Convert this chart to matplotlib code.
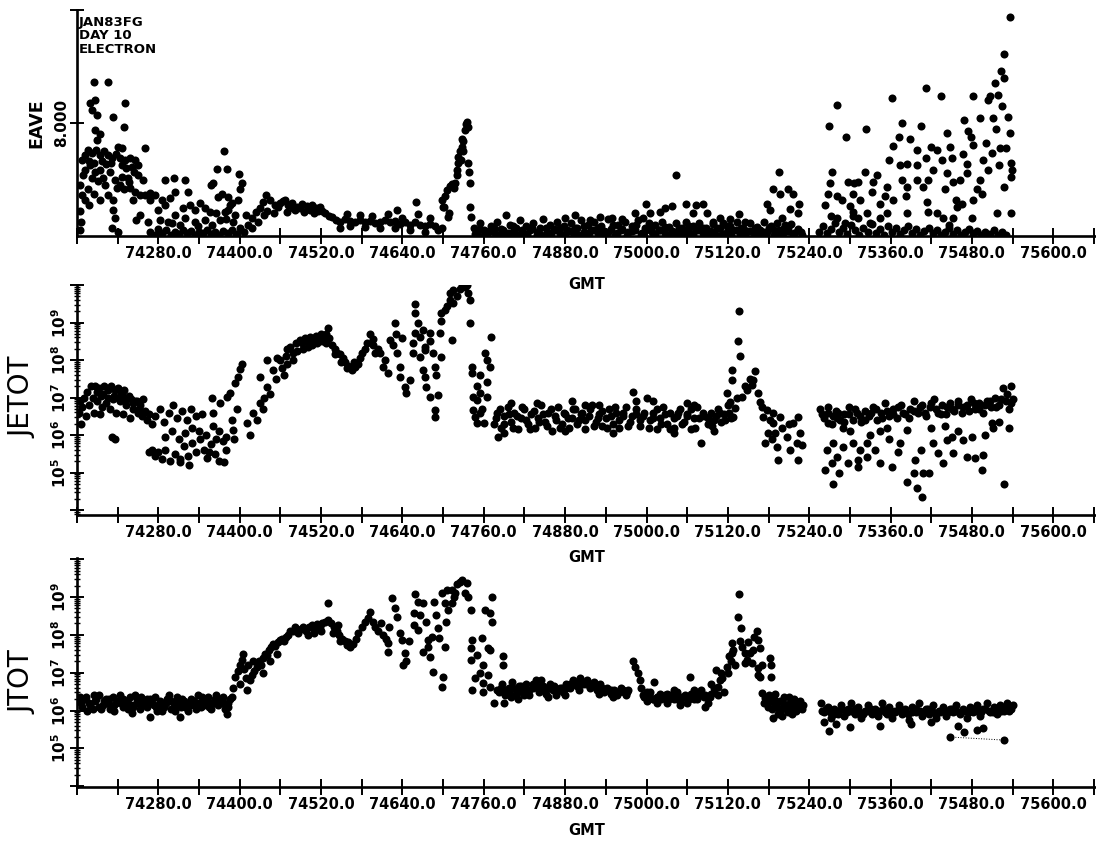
import numpy as np
import matplotlib
matplotlib.use("Agg")
import matplotlib.pyplot as plt
from matplotlib.ticker import FixedLocator, MultipleLocator, FormatStrFormatter, LogLocator, NullFormatter, FuncFormatter

plt.rcParams['font.family'] = ['DejaVu Sans']

# ---------------- data (gmt, value) ----------------
# EAVE panel (linear, keV)
eave_a = [(74164, 0.4), (74164, 1.8), (74167, 2.9), (74164, 3.6), (74169, 4.3), (74172, 4.7), (74167, 5.4), (74172, 5.7),
          (74176, 6.1), (74182, 5.9), (74188, 6.1), (74194, 5.7), (74200, 6.0), (74206, 5.7), (74212, 5.5), (74218, 5.8),
          (74223, 5.5), (74231, 5.4), (74238, 5.5), (74246, 5.4), (74250, 5.0), (74179, 5.0), (74187, 4.5), (74194, 4.7),
          (74209, 4.5), (74216, 4.0), (74223, 3.6), (74229, 3.3), (74238, 3.4), (74246, 3.1), (74253, 2.9), (74260, 2.9),
          (74268, 2.55), (74201, 3.6), (74194, 2.55), (74206, 2.9), (74213, 2.55), (74219, 3.4), (74176, 3.3), (74172, 2.55),
          (74182, 4.1), (74198, 4.1), (74213, 1.85), (74216, 1.3), (74212, 0.55), (74220, 0.3), (74190, 6.8), (74194, 7.2),
          (74187, 7.5), (74182, 8.9), (74187, 9.6), (74179, 9.4), (74185, 10.9), (74206, 10.9), (74190, 8.6), (74213, 8.4),
          (74231, 9.4), (74229, 7.7), (74220, 6.3), (74226, 6.2), (74260, 6.2), (74250, 4.3), (74235, 4.1), (74257, 4.0),
          (74243, 2.55), (74253, 1.5), (74247, 1.1), (74265, 1.0), (74268, 3.05), (74275, 2.9), (74178, 5.3), (74185, 5.2),
          (74197, 5.3), (74203, 5.1), (74210, 5.2), (74226, 5.0), (74233, 4.8), (74241, 4.9), (74244, 4.5), (74236, 3.8),
          (74227, 4.2), (74191, 3.9), (74185, 3.0), (74178, 2.2), (74166, 1.0)]
eave_b = [(74279, 1.85), (74285, 2.55), (74290, 2.2), (74297, 2.7), (74290, 4.0), (74303, 4.1), (74319, 4.0), (74324, 3.1),
          (74305, 3.1), (74282, 1.1), (74294, 1.0), (74305, 1.5), (74312, 0.8), (74316, 2.0), (74327, 2.2), (74334, 1.85),
          (74341, 2.35), (74349, 2.0), (74356, 1.7), (74334, 1.0), (74349, 1.1), (74359, 0.8), (74371, 1.1), (74378, 1.7),
          (74386, 2.2), (74393, 1.5), (74383, 2.75), (74368, 2.75), (74374, 3.0), (74361, 3.75), (74358, 3.6), (74377, 6.0),
          (74367, 4.75), (74381, 4.75), (74399, 4.4), (74403, 3.75), (74400, 3.3), (74397, 2.55), (74389, 2.35), (74383, 1.85),
          (74390, 1.0), (74400, 0.55), (74406, 0.3), (74412, 0.8), (74418, 1.3), (74424, 1.7), (74430, 2.0), (74434, 2.4),
          (74439, 2.9), (74445, 2.55), (74452, 2.2), (74459, 2.35), (74464, 2.5), (74467, 2.55), (74471, 2.2), (74474, 2.2),
          (74477, 2.35), (74482, 1.85), (74485, 2.05), (74489, 2.0), (74492, 2.3), (74499, 2.1), (74507, 2.2), (74512, 2.0),
          (74518, 2.05), (74526, 1.6), (74532, 1.4), (74418, 0.55), (74427, 1.0), (74436, 1.5),
          (74268, 0.3), (74275, 0.1), (74280, 0.5), (74286, 0.2), (74292, 0.4), (74298, 0.1), (74304, 0.3), (74310, 0.15),
          (74316, 0.45), (74322, 0.2), (74328, 0.35), (74334, 0.1), (74340, 0.3), (74346, 0.2), (74352, 0.45), (74358, 0.15),
          (74364, 0.3), (74370, 0.1), (74376, 0.35), (74382, 0.2), (74388, 0.4), (74394, 0.15),
          (74300, 0.9), (74320, 1.3), (74338, 0.7), (74365, 1.6), (74380, 1.2), (74410, 1.5), (74440, 1.8), (74450, 1.6),
          (74470, 1.7), (74495, 1.7), (74510, 1.6), (74456, 2.05), (74478, 1.95), (74503, 1.85), (74515, 1.75), (74521, 1.8)]
eave_c = [(74536, 1.35), (74542, 1.1), (74548, 1.0), (74555, 1.2), (74563, 1.05), (74570, 1.0), (74577, 1.1), (74585, 1.0),
          (74592, 1.05), (74600, 0.9), (74607, 1.0), (74614, 1.1), (74622, 1.0), (74629, 1.05), (74632, 1.85), (74636, 0.85),
          (74644, 1.0), (74651, 0.8), (74659, 1.0), (74660, 2.4), (74663, 1.55), (74666, 0.8), (74673, 0.7), (74681, 0.85),
          (74688, 0.7), (74692, 0.4), (74698, 0.55), (74548, 0.55), (74563, 0.7), (74585, 0.65), (74607, 0.55), (74629, 0.6),
          (74651, 0.4), (74673, 0.3), (74558, 1.55), (74577, 1.5), (74595, 1.45), (74619, 1.55), (74640, 1.3), (74680, 1.3),
          (74698, 2.55), (74701, 2.05), (74703, 2.85), (74706, 3.25), (74710, 3.55), (74713, 3.7), (74718, 3.75), (74721, 4.3),
          (74721, 4.7), (74722, 5.2), (74722, 5.6), (74725, 6.0), (74728, 6.3), (74728, 6.9), (74729, 6.7), (74732, 7.5),
          (74734, 7.9), (74735, 8.1), (74737, 7.7), (74737, 5.2), (74738, 4.55), (74740, 3.75), (74740, 2.05), (74741, 1.35),
          (74707, 1.35), (74709, 1.6), (74700, 2.05), (74716, 3.4), (74726, 5.4), (74730, 6.0)]
eave_d = [(74745, 0.6), (74750, 0.2), (74755, 0.9), (74760, 0.4), (74765, 0.1), (74770, 0.7), (74775, 0.3), (74780, 1.0),
          (74785, 0.5), (74790, 0.2), (74793, 1.5), (74798, 0.8), (74803, 0.3), (74808, 0.6), (74813, 1.1), (74818, 0.2),
          (74823, 0.7), (74828, 0.4), (74833, 0.9), (74838, 0.1), (74843, 0.6), (74848, 1.2), (74853, 0.3), (74858, 0.8),
          (74863, 0.5), (74868, 1.0), (74873, 0.2), (74878, 0.7), (74883, 0.4), (74888, 0.9), (74893, 0.15), (74898, 0.6),
          (74903, 1.1), (74908, 0.3), (74913, 0.8), (74918, 0.45), (74923, 1.0), (74928, 0.2), (74933, 0.7), (74938, 0.35),
          (74943, 1.2), (74948, 0.5), (74953, 0.1), (74958, 0.8), (74963, 0.4), (74968, 1.0), (74973, 0.25), (74978, 0.7),
          (74983, 0.45), (74988, 1.1), (74993, 0.2), (74998, 0.6), (75003, 0.9), (75008, 0.3), (75013, 0.75), (75018, 0.4),
          (75023, 1.0), (75028, 0.2), (75033, 0.65), (75038, 0.35), (75043, 0.9), (75048, 0.15), (75053, 0.6), (75058, 1.0),
          (75063, 0.3), (75068, 0.7), (75073, 0.45), (75078, 0.95), (75083, 0.2), (75088, 0.6), (75093, 0.35), (75098, 0.85),
          (75103, 0.1), (75108, 0.55), (75113, 0.9), (75118, 0.3), (75123, 0.7), (75128, 0.4), (75133, 1.0), (75138, 0.15),
          (75143, 0.6), (75148, 0.35), (75153, 0.9), (75158, 0.2), (75163, 0.65), (75168, 0.4), (75173, 1.0), (75178, 0.25),
          (75183, 0.7), (75188, 0.45), (75193, 0.9), (75198, 0.1), (75203, 0.6), (75208, 0.35), (75213, 0.85), (75218, 0.2),
          (75223, 0.5), (75228, 0.3),
          (75044, 4.3), (74999, 2.3), (75005, 1.6), (75020, 1.7), (75027, 2.0), (75038, 2.1), (75058, 2.3), (75073, 2.2),
          (75083, 2.3), (75069, 1.6), (75089, 1.6), (75098, 1.0), (75136, 1.55), (74895, 1.5), (74917, 1.1), (74949, 1.3),
          (74964, 1.2), (74983, 1.6), (74995, 1.3), (74880, 1.3), (74931, 1.35), (75108, 1.3), (75123, 1.2), (75145, 1.0),
          (75195, 4.5), (75187, 3.3), (75197, 3.0), (75209, 3.3), (75216, 3.0), (75178, 2.3), (75212, 1.9), (75225, 2.3),
          (75200, 1.3), (75223, 1.6), (75182, 1.85), (75204, 0.8)]
eave_d2 = [(74747, 0.15), (74754, 0.5), (74761, 0.05), (74768, 0.35), (74775, 0.6), (74782, 0.1), (74789, 0.45), (74796, 0.2),
           (74803, 0.7), (74810, 0.05), (74817, 0.4), (74824, 0.15), (74831, 0.55), (74838, 0.3), (74845, 0.05), (74852, 0.6),
           (74859, 0.2), (74866, 0.45), (74873, 0.6), (74880, 0.1), (74887, 0.35), (74894, 0.55), (74901, 0.05), (74908, 0.7),
           (74915, 0.2), (74922, 0.45), (74929, 0.6), (74936, 0.05), (74943, 0.3), (74950, 0.75), (74957, 0.2), (74964, 0.5),
           (74971, 0.05), (74978, 0.35), (74985, 0.8), (74992, 0.15), (74999, 0.4), (75006, 0.6), (75013, 0.1), (75020, 0.45),
           (75027, 0.65), (75034, 0.05), (75041, 0.3), (75048, 0.55), (75055, 0.2), (75062, 0.7), (75069, 0.1), (75076, 0.4),
           (75083, 0.6), (75090, 0.05), (75097, 0.3), (75104, 0.55), (75111, 0.15), (75118, 0.7), (75125, 0.05), (75132, 0.4),
           (75139, 0.6), (75146, 0.1), (75153, 0.35), (75160, 0.55), (75167, 0.05), (75174, 0.3), (75181, 0.6), (75188, 0.1),
           (75195, 0.45), (75202, 0.2), (75209, 0.6), (75216, 0.05), (75223, 0.4), (75230, 0.1)]
eave_e = [(75536, 15.5), (75527, 12.9), (75523, 11.7), (75527, 11.2), (75514, 10.8), (75519, 10.0), (75507, 9.9), (75504, 9.6),
          (75482, 9.9), (75434, 9.9), (75412, 10.5), (75362, 9.8), (75281, 9.3), (75269, 7.8), (75294, 7.0), (75324, 7.6),
          (75377, 8.0), (75405, 7.8), (75372, 7.0), (75364, 6.4), (75389, 6.85), (75443, 7.3), (75468, 8.2), (75492, 8.35),
          (75511, 8.35), (75524, 9.2), (75533, 8.45), (75536, 7.3), (75516, 7.6), (75501, 6.6), (75482, 6.45), (75474, 7.4),
          (75479, 7.0), (75448, 6.3), (75428, 6.1), (75420, 6.3), (75399, 6.1), (75358, 5.4), (75374, 5.0), (75384, 5.1),
          (75399, 5.0), (75412, 5.5), (75436, 5.4), (75451, 5.5), (75467, 5.8), (75473, 5.1), (75496, 5.4), (75510, 5.9),
          (75521, 6.2), (75520, 5.0), (75530, 6.2), (75538, 5.2), (75539, 4.7), (75538, 4.2), (75527, 3.5), (75504, 4.7),
          (75492, 4.0), (75495, 3.0), (75488, 3.3), (75482, 2.55), (75473, 4.45), (75462, 4.0), (75452, 3.8), (75443, 4.45),
          (75440, 3.3), (75457, 2.55), (75458, 2.05), (75465, 2.3), (75480, 1.3), (75452, 1.3), (75446, 0.8), (75423, 4.7),
          (75415, 4.0), (75408, 3.5), (75414, 2.4), (75415, 1.7), (75428, 1.6), (75437, 1.3), (75384, 1.6), (75383, 2.8),
          (75399, 4.0), (75384, 3.5), (75377, 4.0), (75355, 3.5), (75364, 2.55), (75352, 2.8), (75355, 1.6), (75340, 4.3),
          (75334, 3.8), (75333, 3.1), (75322, 4.55), (75312, 3.8), (75305, 3.0), (75297, 3.8), (75315, 2.55), (75300, 2.1),
          (75288, 2.55), (75281, 2.8), (75274, 4.55), (75271, 3.75), (75268, 3.0), (75263, 2.2), (75305, 1.7), (75312, 1.3),
          (75325, 1.6), (75344, 2.3), (75344, 1.3), (75330, 0.9), (75517, 1.6), (75538, 1.6), (75527, 0.1), (75306, 3.75),
          (75272, 1.4), (75281, 1.3), (75293, 0.9), (75305, 1.4),
          (75255, 0.3), (75260, 0.7), (75266, 0.2), (75272, 0.5), (75278, 0.9), (75284, 0.3), (75290, 0.6), (75296, 0.15),
          (75302, 0.8), (75308, 0.4), (75314, 0.1), (75320, 0.6), (75326, 0.3), (75332, 0.85), (75338, 0.2), (75344, 0.5),
          (75350, 0.1), (75356, 0.7), (75362, 0.3), (75368, 0.55), (75374, 0.15), (75380, 0.4), (75386, 0.7), (75392, 0.2),
          (75398, 0.5), (75404, 0.1), (75410, 0.35), (75416, 0.6), (75422, 0.2), (75428, 0.45), (75434, 0.1), (75440, 0.3),
          (75446, 0.55), (75452, 0.15), (75458, 0.4), (75464, 0.1), (75470, 0.3), (75476, 0.5), (75482, 0.2), (75488, 0.35),
          (75494, 0.1), (75500, 0.3), (75506, 0.15), (75512, 0.4), (75518, 0.1), (75524, 0.25), (75530, 0.1)]

# JETOT panel, log10 of flux
jetot_a = [(74163, 6.6), (74164, 6.9), (74166, 6.3), (74168, 6.75), (74170, 7.0), (74173, 6.5), (74175, 7.15), (74178, 6.8),
           (74181, 7.3), (74184, 7.0), (74187, 7.3), (74190, 6.9), (74193, 7.25), (74196, 7.05), (74200, 7.3), (74203, 6.85),
           (74206, 7.2), (74210, 7.3), (74213, 6.95), (74216, 7.2), (74220, 7.25), (74223, 6.9), (74226, 7.1), (74230, 7.2),
           (74233, 6.8), (74236, 7.05), (74240, 6.95), (74243, 6.7), (74246, 6.9), (74250, 6.6), (74253, 6.8), (74256, 6.5),
           (74260, 6.65), (74263, 6.4), (74266, 6.55), (74270, 6.3), (74185, 6.6), (74197, 6.75), (74208, 6.7), (74218, 6.6),
           (74228, 6.55), (74238, 6.45), (74194, 6.55), (74212, 5.96), (74216, 5.9), (74248, 6.9), (74258, 6.95), (74225, 7.1),
           (74189, 7.15), (74199, 7.1), (74205, 7.0), (74215, 7.05), (74222, 7.0), (74232, 6.95), (74242, 6.85), (74252, 6.7)]
jetot_b = [(74270, 5.6), (74275, 5.45), (74280, 5.55), (74285, 5.35), (74290, 5.6), (74297, 5.3), (74305, 5.5), (74312, 5.35),
           (74318, 5.7), (74324, 5.45), (74330, 5.8), (74336, 5.55), (74342, 5.9), (74347, 5.6), (74352, 5.4), (74358, 5.75),
           (74364, 5.5), (74370, 5.3), (74375, 5.85), (74380, 5.6), (74290, 5.95), (74300, 6.1), (74310, 5.9), (74320, 6.05),
           (74330, 6.2), (74340, 6.1), (74350, 6.0), (74360, 6.25), (74370, 6.1), (74380, 5.95), (74275, 6.5), (74282, 6.7),
           (74288, 6.35), (74295, 6.6), (74302, 6.8), (74308, 6.45), (74315, 6.65), (74322, 6.4), (74328, 6.7), (74335, 6.5),
           (74345, 6.55), (74359, 7.0), (74312, 5.27), (74377, 5.27), (74266, 5.55), (74355, 5.55), (74365, 5.9), (74325, 5.2),
           (74361, 6.6), (74371, 6.86), (74381, 7.02), (74386, 7.12), (74390, 6.14), (74389, 6.4), (74393, 7.4), (74396, 6.7),
           (74400, 7.75), (74403, 7.9), (74392, 5.9), (74398, 7.55),
           (74411, 6.32), (74415, 6.0), (74420, 6.59), (74425, 6.4), (74430, 6.86), (74435, 6.7), (74440, 7.28), (74436, 7.0),
           (74445, 7.1), (74449, 7.74), (74453, 7.5), (74459, 8.0), (74463, 7.8), (74468, 8.1), (74474, 8.35), (74478, 8.2),
           (74483, 8.45), (74489, 8.54), (74440, 8.0), (74430, 7.55), (74455, 8.05), (74470, 8.3)]
jetot_c = [(74492, 8.45), (74496, 8.6), (74500, 8.5), (74504, 8.62), (74508, 8.55), (74512, 8.65), (74516, 8.6), (74520, 8.7),
           (74524, 8.62), (74528, 8.7), (74530, 8.86), (74532, 8.6), (74494, 8.3), (74500, 8.35), (74507, 8.4), (74514, 8.45),
           (74521, 8.5), (74527, 8.45), (74484, 8.25), (74478, 8.0), (74470, 7.9), (74466, 7.6),
           (74536, 8.4), (74540, 8.3), (74544, 8.2), (74548, 8.15), (74552, 8.05), (74556, 7.95), (74560, 7.85), (74564, 7.78),
           (74566, 7.74), (74570, 7.82), (74574, 7.9), (74540, 8.15), (74550, 7.95), (74558, 7.8), (74568, 7.95),
           (74577, 8.05), (74581, 8.2), (74585, 8.3), (74588, 8.45), (74592, 8.7), (74596, 8.4), (74600, 8.2), (74604, 8.3),
           (74607, 8.18), (74611, 7.82), (74615, 8.0), (74619, 7.66), (74622, 8.54), (74626, 8.4), (74629, 9.0), (74632, 8.18),
           (74636, 7.82), (74636, 7.55), (74644, 7.28), (74646, 7.12), (74651, 7.47), (74640, 8.6), (74630, 8.7), (74596, 8.55),
           (74659, 9.5), (74659, 9.26), (74663, 9.0), (74659, 8.72), (74655, 8.46), (74655, 8.18), (74666, 8.62), (74670, 8.8),
           (74673, 8.35), (74666, 8.08), (74673, 8.27), (74670, 7.74), (74673, 7.55), (74675, 7.28), (74681, 7.02), (74688, 6.67),
           (74688, 6.48), (74681, 8.72), (74681, 8.5), (74685, 8.18), (74688, 7.82), (74690, 7.6), (74692, 7.07), (74695, 8.72),
           (74697, 8.08),
           (74697, 9.05), (74703, 9.34), (74710, 9.6), (74710, 9.79), (74715, 9.87), (74728, 10.0), (74735, 10.0), (74737, 9.79),
           (74740, 9.6), (74715, 9.52), (74713, 8.54), (74697, 9.26), (74720, 9.7), (74732, 9.95), (74706, 9.45), (74725, 9.9),
           (74740, 9.0), (74771, 8.62), (74762, 8.2), (74765, 8.0), (74769, 7.82), (74743, 7.82), (74743, 7.66), (74754, 7.6),
           (74765, 7.42), (74750, 7.3), (74754, 7.12), (74765, 7.02), (74744, 7.02), (74750, 6.94), (74744, 6.67), (74747, 6.48),
           (74754, 6.59), (74760, 6.32), (74750, 6.32), (74758, 6.7)]
jetot_d = [(74775, 6.3), (74780, 6.6), (74785, 6.2), (74790, 6.5), (74795, 6.75), (74800, 6.35), (74805, 6.6), (74810, 6.15),
           (74815, 6.45), (74820, 6.7), (74825, 6.3), (74830, 6.55), (74835, 6.2), (74840, 6.45), (74845, 6.8), (74850, 6.35),
           (74855, 6.6), (74860, 6.1), (74865, 6.5), (74870, 6.75), (74875, 6.3), (74880, 6.55), (74885, 6.2), (74890, 6.45),
           (74895, 6.7), (74900, 6.4), (74905, 6.6), (74910, 6.15), (74915, 6.5), (74920, 6.8), (74925, 6.35), (74930, 6.55),
           (74935, 6.25), (74940, 6.45), (74945, 6.7), (74950, 6.3), (74955, 6.6), (74960, 6.2), (74965, 6.5), (74970, 6.75),
           (74975, 6.35), (74980, 7.15), (74985, 6.55), (74990, 6.25), (74995, 6.5), (75000, 7.0), (75005, 6.4), (75010, 6.6),
           (75015, 6.15), (75020, 6.45), (75025, 6.75), (75030, 6.3), (75035, 6.6), (75040, 6.2), (75045, 6.5), (75050, 6.7),
           (75055, 6.35), (75060, 6.55), (75065, 6.15), (75070, 6.45), (75075, 6.75), (75080, 5.8), (75085, 6.5), (75090, 6.3),
           (75095, 6.6), (75100, 6.4), (75105, 6.7), (75110, 6.35), (75115, 6.55), (75120, 6.8), (75125, 6.45),
           (74781, 5.95), (74790, 6.05), (74800, 6.85), (74838, 6.85), (74880, 6.1), (74910, 6.8), (74950, 6.05), (74930, 6.8),
           (75060, 6.85), (75040, 6.05), (75070, 6.8), (75010, 6.9), (74985, 6.9), (75100, 6.1), (74890, 6.9),
           (75136, 9.3), (75135, 8.5), (75138, 8.1), (75126, 7.74), (75126, 7.47), (75160, 7.7), (75157, 7.47), (75156, 7.34),
           (75148, 7.2), (75141, 7.02), (75119, 7.12), (75123, 6.88), (75131, 6.72), (75128, 6.48), (75164, 7.12), (75167, 6.88),
           (75170, 6.75), (75172, 6.48), (75178, 6.67), (75187, 6.59), (75197, 6.48), (75187, 6.32), (75179, 6.05), (75175, 5.79),
           (75190, 6.05), (75193, 5.68), (75194, 5.34), (75207, 5.95), (75212, 5.6), (75216, 6.32), (75223, 6.48), (75226, 6.05),
           (75222, 5.79), (75229, 5.74), (75223, 5.34), (75145, 7.3), (75152, 7.5), (75133, 7.0), (75200, 6.2), (75185, 5.9),
           (75210, 6.3), (75182, 6.4)]
jetot_d2 = [(74778, 6.45), (74784, 6.7), (74790, 6.3), (74797, 6.55), (74803, 6.2), (74809, 6.5), (74816, 6.75), (74822, 6.4),
            (74828, 6.15), (74834, 6.65), (74841, 6.35), (74847, 6.55), (74853, 6.25), (74859, 6.7), (74866, 6.4), (74872, 6.2),
            (74878, 6.6), (74884, 6.45), (74891, 6.7), (74897, 6.3), (74903, 6.55), (74909, 6.4), (74916, 6.7), (74922, 6.25),
            (74928, 6.45), (74934, 6.65), (74941, 6.2), (74947, 6.5), (74953, 6.75), (74959, 6.4), (74966, 6.6), (74972, 6.25),
            (74978, 6.5), (74984, 6.7), (74991, 6.4), (74997, 6.6), (75003, 6.2), (75009, 6.45), (75016, 6.7), (75022, 6.3),
            (75028, 6.55), (75034, 6.15), (75041, 6.45), (75047, 6.6), (75053, 6.3), (75059, 6.5), (75066, 6.7), (75072, 6.2),
            (75078, 6.45), (75084, 6.6), (75091, 6.45), (75097, 6.25), (75103, 6.5), (75109, 6.6), (75116, 6.4), (75122, 6.6)]
jetot_e = [(75256, 6.7), (75262, 6.45), (75268, 6.6), (75274, 6.3), (75280, 6.65), (75286, 6.4), (75292, 6.55), (75298, 6.75),
           (75304, 6.4), (75310, 6.6), (75316, 6.35), (75322, 6.65), (75328, 6.5), (75334, 6.75), (75340, 6.4), (75346, 6.6),
           (75352, 6.85), (75358, 6.5), (75364, 6.7), (75370, 6.45), (75376, 6.8), (75382, 6.55), (75388, 6.7), (75394, 6.9),
           (75400, 6.6), (75406, 6.8), (75412, 6.5), (75418, 6.75), (75424, 6.95), (75430, 6.6), (75436, 6.8), (75442, 6.55),
           (75448, 6.85), (75454, 6.65), (75460, 6.9), (75466, 6.6), (75472, 6.8), (75478, 6.95), (75484, 6.7), (75490, 6.85),
           (75496, 6.6), (75502, 6.9), (75508, 6.75), (75514, 7.0), (75520, 6.8), (75526, 7.25), (75530, 6.9), (75534, 6.7),
           (75538, 7.3), (75540, 6.95),
           (75275, 4.7), (75527, 4.7), (75384, 4.75), (75399, 4.59), (75407, 4.35), (75263, 5.07), (75284, 5.0), (75297, 5.26),
           (75312, 5.15), (75344, 5.26), (75362, 5.15), (75394, 5.0), (75408, 5.0), (75417, 5.0), (75396, 5.34), (75423, 5.79),
           (75430, 5.52), (75437, 5.26), (75452, 5.52), (75443, 5.87), (75451, 5.95), (75473, 5.42), (75485, 5.39), (75495, 5.07),
           (75496, 5.47), (75480, 5.95), (75467, 5.87), (75374, 5.79), (75371, 5.55), (75384, 6.14), (75344, 6.1), (75325, 5.79),
           (75315, 5.6), (75305, 5.79), (75290, 5.68), (75275, 5.79), (75266, 5.6), (75281, 5.42), (75274, 5.26), (75325, 5.42),
           (75337, 5.6), (75312, 5.34), (75511, 6.2), (75535, 6.2), (75510, 6.32), (75300, 6.1), (75268, 6.32), (75281, 6.46),
           (75330, 6.0), (75355, 6.2), (75420, 6.2), (75460, 6.1), (75500, 6.0), (75358, 5.9), (75405, 5.6), (75440, 6.25),
           (75520, 6.35), (75290, 6.2)]
jetot_e2 = [(75259, 6.55), (75267, 6.75), (75275, 6.5), (75283, 6.6), (75291, 6.35), (75299, 6.55), (75307, 6.7), (75315, 6.5),
            (75323, 6.4), (75331, 6.6), (75339, 6.7), (75347, 6.45), (75355, 6.65), (75363, 6.55), (75371, 6.75), (75379, 6.6),
            (75387, 6.45), (75395, 6.65), (75403, 6.75), (75411, 6.6), (75419, 6.85), (75427, 6.7), (75435, 6.55), (75443, 6.75),
            (75451, 6.7), (75459, 6.8), (75467, 6.75), (75475, 6.65), (75483, 6.85), (75491, 6.7), (75499, 6.8), (75507, 6.9),
            (75515, 6.75), (75523, 6.95), (75531, 7.1), (75537, 6.85)]

# JTOT panel, log10 of flux
jtot_a = [(74163, 6.25), (74168, 6.1), (74173, 6.35), (74178, 6.2), (74183, 6.05), (74188, 6.3), (74193, 6.4), (74198, 6.15),
          (74203, 6.3), (74208, 6.05), (74213, 6.35), (74218, 6.2), (74223, 6.4), (74228, 6.1), (74233, 6.25), (74238, 6.35),
          (74241, 5.94), (74243, 6.15), (74248, 6.3), (74253, 6.05), (74258, 6.25), (74263, 6.1), (74268, 5.84), (74268, 6.3),
          (74273, 6.15), (74278, 6.0), (74283, 6.25), (74288, 6.1), (74293, 6.3), (74298, 6.05), (74303, 6.2), (74308, 6.35),
          (74312, 5.84), (74313, 6.1), (74318, 6.25), (74323, 6.0), (74328, 6.3), (74333, 6.15), (74338, 6.4), (74343, 6.1),
          (74348, 6.25), (74353, 6.35), (74358, 6.05), (74363, 6.3), (74368, 6.15), (74373, 6.25), (74378, 6.05), (74381, 5.91),
          (74383, 6.2),
          (74165, 6.35), (74175, 6.0), (74185, 6.4), (74195, 6.05), (74205, 6.2), (74215, 6.0), (74225, 6.2), (74235, 6.05),
          (74245, 6.4), (74255, 6.35), (74265, 6.25), (74275, 6.35), (74285, 6.0), (74295, 6.4), (74305, 6.0), (74315, 6.3),
          (74325, 6.2), (74335, 6.05), (74345, 6.35), (74355, 6.2), (74365, 6.4), (74375, 6.35), (74385, 6.3),
          (74388, 6.36), (74390, 6.6), (74393, 6.89), (74397, 7.05), (74400, 7.21), (74403, 7.34), (74406, 7.1), (74409, 6.86),
          (74411, 6.55), (74415, 6.81), (74418, 6.95), (74421, 7.05), (74425, 7.16), (74428, 7.3), (74431, 7.2), (74434, 7.4),
          (74437, 7.5), (74440, 7.47), (74443, 7.6), (74446, 7.68), (74449, 7.75), (74452, 7.7), (74456, 7.8), (74459, 7.87),
          (74462, 7.9), (74465, 7.85), (74468, 7.95), (74471, 8.0), (74474, 8.1), (74405, 7.5), (74420, 7.3), (74435, 7.0),
          (74445, 7.3), (74455, 7.5), (74412, 7.2), (74400, 6.7)]
jtot_a2 = [(74166, 6.2), (74172, 6.3), (74179, 6.15), (74186, 6.25), (74193, 6.1), (74200, 6.25), (74207, 6.3), (74214, 6.15),
           (74221, 6.25), (74228, 6.3), (74235, 6.2), (74242, 6.1), (74249, 6.2), (74256, 6.15), (74263, 6.3), (74270, 6.2),
           (74277, 6.1), (74284, 6.15), (74291, 6.2), (74298, 6.25), (74305, 6.15), (74312, 6.2), (74319, 6.1), (74326, 6.15),
           (74333, 6.25), (74340, 6.2), (74347, 6.15), (74354, 6.1), (74361, 6.2), (74368, 6.3), (74375, 6.2), (74382, 6.1)]
jtot_b = [(74478, 8.1), (74482, 8.2), (74486, 8.05), (74490, 8.15), (74494, 8.22), (74498, 8.1), (74502, 8.2), (74506, 8.25),
          (74510, 8.15), (74514, 8.28), (74518, 8.2), (74522, 8.3), (74526, 8.35), (74530, 8.4), (74530, 8.85), (74500, 8.0),
          (74510, 8.05), (74520, 8.1),
          (74535, 8.3), (74539, 8.2), (74543, 8.1), (74547, 8.0), (74551, 7.9), (74555, 7.85), (74559, 7.8), (74563, 7.68),
          (74567, 7.75), (74571, 7.9), (74538, 8.05), (74548, 7.85), (74558, 7.72), (74545, 8.25),
          (74575, 8.05), (74580, 8.2), (74585, 8.35), (74589, 8.45), (74592, 8.61), (74596, 8.35), (74600, 8.2), (74604, 8.1),
          (74608, 8.3), (74612, 8.0), (74616, 7.9), (74620, 8.2), (74618, 7.79), (74619, 7.55), (74625, 8.98), (74629, 8.72),
          (74632, 8.48), (74636, 8.05), (74639, 7.87), (74644, 7.52), (74641, 7.21), (74646, 7.3), (74650, 7.83),
          (74659, 9.09), (74663, 8.88), (74657, 8.58), (74666, 8.53), (74670, 8.85), (74657, 8.27), (74663, 8.13), (74675, 8.35),
          (74678, 7.87), (74670, 7.55), (74678, 7.68), (74680, 7.42), (74685, 7.02), (74687, 8.88), (74690, 8.53), (74693, 8.19),
          (74683, 7.95), (74694, 7.92), (74703, 7.68), (74700, 6.89), (74698, 6.63), (74705, 8.35),
          (74698, 9.11), (74706, 9.19), (74703, 8.85), (74707, 8.66), (74713, 9.19), (74721, 9.33), (74728, 9.46), (74735, 9.38),
          (74732, 9.11), (74737, 9.0), (74718, 9.11), (74713, 8.85), (74725, 9.4), (74716, 9.0),
          (74741, 8.66), (74772, 9.0), (74762, 8.66), (74769, 8.58), (74772, 8.35), (74743, 7.87), (74757, 7.92), (74741, 7.66),
          (74766, 7.66), (74769, 7.61), (74750, 7.47), (74741, 7.34), (74759, 7.21), (74788, 7.45), (74788, 7.21), (74754, 7.0),
          (74766, 6.94), (74747, 6.86), (74759, 6.73), (74743, 6.55), (74759, 6.5), (74769, 6.63), (74779, 6.55), (74775, 6.2)]
jtot_c = [(74782, 6.5), (74787, 6.7), (74792, 6.4), (74797, 6.6), (74802, 6.75), (74807, 6.45), (74812, 6.65), (74817, 6.5),
          (74822, 6.7), (74827, 6.4), (74832, 6.6), (74837, 6.8), (74842, 6.5), (74847, 6.65), (74852, 6.45), (74857, 6.7),
          (74862, 6.55), (74867, 6.4), (74872, 6.6), (74877, 6.5), (74882, 6.7), (74887, 6.6), (74892, 6.8), (74897, 6.65),
          (74902, 6.85), (74907, 6.7), (74912, 6.8), (74917, 6.6), (74922, 6.75), (74927, 6.55), (74932, 6.7), (74937, 6.5),
          (74942, 6.6), (74947, 6.45), (74952, 6.55), (74957, 6.4), (74962, 6.6), (74967, 6.5), (74972, 6.55),
          (74800, 6.35), (74820, 6.4), (74855, 6.35), (74880, 6.4), (74900, 6.55), (74930, 6.45), (74950, 6.35), (74970, 6.4),
          (74845, 6.8), (74790, 6.2), (74810, 6.3),
          (74980, 7.31), (74983, 7.16), (74987, 7.0), (74990, 6.81), (74992, 6.6),
          (74995, 6.4), (75000, 6.25), (75005, 6.5), (75010, 6.3), (75015, 6.2), (75020, 6.45), (75025, 6.35), (75030, 6.2),
          (75035, 6.4), (75040, 6.3), (75045, 6.5), (75050, 6.25), (75055, 6.35), (75060, 6.2), (75065, 6.45), (75070, 6.3),
          (75075, 6.4), (75080, 6.55), (75085, 6.35), (75090, 6.2), (75095, 6.45), (75100, 6.6), (75105, 6.4),
          (75011, 6.76), (75064, 6.89), (75086, 6.1), (75040, 6.55), (75070, 6.55), (75000, 6.5), (75050, 6.15), (75030, 6.45),
          (75102, 7.07), (75106, 6.63), (75110, 7.0), (75114, 6.5), (75118, 7.16), (75126, 7.79), (75126, 7.52), (75120, 7.0),
          (75108, 6.8), (75124, 7.3), (75095, 6.7), (75112, 6.85), (75122, 7.45), (75128, 7.6), (75130, 7.2),
          (75136, 9.09), (75135, 8.48), (75140, 8.19), (75141, 7.68), (75145, 7.52), (75148, 7.34), (75153, 7.52), (75163, 8.11),
          (75164, 7.87), (75167, 7.66), (75157, 7.61), (75156, 7.26), (75165, 7.13), (75164, 6.94), (75167, 6.89), (75170, 7.21),
          (75182, 7.4), (75183, 7.21), (75183, 6.89), (75145, 7.26), (75150, 7.8), (75158, 7.95), (75138, 7.85),
          (75170, 6.47), (75175, 6.34), (75178, 6.2), (75181, 6.4), (75185, 6.05), (75188, 6.3), (75191, 6.15), (75194, 5.9),
          (75197, 6.25), (75200, 6.05), (75203, 6.35), (75206, 6.1), (75209, 5.95), (75212, 6.2), (75215, 6.05), (75218, 6.3),
          (75221, 6.0), (75224, 6.15), (75227, 6.25), (75230, 6.05), (75186, 5.8), (75200, 5.85), (75215, 5.9), (75190, 6.45),
          (75210, 6.35)]
jtot_c2 = [(74785, 6.6), (74791, 6.55), (74797, 6.5), (74803, 6.6), (74809, 6.55), (74815, 6.65), (74821, 6.6), (74827, 6.55),
           (74833, 6.7), (74839, 6.65), (74845, 6.6), (74851, 6.55), (74857, 6.6), (74863, 6.65), (74869, 6.55), (74875, 6.6),
           (74881, 6.6), (74887, 6.7), (74893, 6.7), (74899, 6.75), (74905, 6.75), (74911, 6.7), (74917, 6.7), (74923, 6.65),
           (74929, 6.6), (74935, 6.6), (74941, 6.55), (74947, 6.55), (74953, 6.5), (74959, 6.5), (74965, 6.55), (74971, 6.5),
           (74997, 6.35), (75003, 6.4), (75009, 6.3), (75015, 6.35), (75021, 6.3), (75027, 6.4), (75033, 6.3), (75039, 6.35),
           (75045, 6.3), (75051, 6.35), (75057, 6.4), (75063, 6.3), (75069, 6.35), (75075, 6.3), (75081, 6.45), (75087, 6.4),
           (75093, 6.35), (75099, 6.5),
           (75173, 6.2), (75179, 6.1), (75184, 6.25), (75189, 6.15), (75195, 6.05), (75201, 6.2), (75207, 6.15), (75213, 6.05),
           (75219, 6.15), (75225, 6.1), (75231, 6.15)]
jtot_d = [(75257, 6.2), (75262, 5.95), (75267, 6.1), (75272, 5.8), (75277, 6.05), (75282, 5.9), (75287, 6.15), (75292, 5.85),
          (75297, 6.05), (75302, 6.2), (75307, 5.9), (75312, 6.1), (75317, 5.8), (75322, 6.0), (75327, 6.15), (75332, 5.9),
          (75337, 6.05), (75342, 5.85), (75347, 6.2), (75352, 5.95), (75357, 6.1), (75362, 5.8), (75367, 6.0), (75372, 6.15),
          (75377, 5.9), (75382, 6.05), (75387, 5.75), (75392, 6.1), (75397, 5.95), (75402, 6.2), (75407, 5.85), (75412, 6.05),
          (75417, 5.9), (75422, 6.15), (75427, 5.8), (75432, 6.0), (75437, 6.1), (75442, 5.85), (75447, 6.05), (75452, 5.95),
          (75457, 6.15), (75462, 5.9), (75467, 6.05), (75472, 5.8), (75477, 6.1), (75482, 5.95), (75487, 6.15), (75492, 5.85),
          (75497, 6.05), (75502, 6.2), (75507, 5.95), (75512, 6.1), (75517, 5.9), (75522, 6.15), (75527, 6.0), (75532, 6.2),
          (75537, 6.05), (75540, 6.15),
          (75269, 5.45), (75300, 5.57), (75344, 5.6), (75448, 5.3), (75527, 5.22), (75468, 5.43), (75488, 5.49), (75496, 5.54),
          (75262, 5.7), (75280, 5.65), (75390, 5.65), (75420, 5.7), (75460, 5.6)]
jtot_d2 = [(75259, 6.0), (75265, 6.05), (75271, 5.95), (75277, 5.9), (75283, 6.0), (75289, 6.05), (75295, 5.95), (75301, 6.0),
           (75307, 6.05), (75313, 5.95), (75319, 5.9), (75325, 6.0), (75331, 6.05), (75337, 5.95), (75343, 6.0), (75349, 6.05),
           (75355, 5.9), (75361, 6.0), (75367, 5.95), (75373, 6.05), (75379, 6.0), (75385, 5.9), (75391, 5.95), (75397, 6.05),
           (75403, 6.0), (75409, 5.95), (75415, 6.05), (75421, 6.0), (75427, 5.9), (75433, 5.95), (75439, 6.0), (75445, 5.95),
           (75451, 6.05), (75457, 6.0), (75463, 5.95), (75469, 6.0), (75475, 5.95), (75481, 6.05), (75487, 6.0), (75493, 5.95),
           (75499, 6.05), (75505, 6.0), (75511, 5.95), (75517, 6.05), (75523, 6.0), (75529, 6.1), (75535, 6.0)]

# dotted gap line under the JTOT band
jtot_gap_gmt = [75448, 75527]
jtot_gap_log = [5.3, 5.22]

gmt_labels = [74280, 74400, 74520, 74640, 74760, 74880, 75000, 75120, 75240, 75360, 75480, 75600]

# ---------------- figure ----------------
W, H = 1096.0, 842.0
fig = plt.figure(figsize=(W / 100, H / 100), dpi=100)


def box(left, top, bottom):
    return [left / W, 1 - bottom / H, 1 - left / W, (bottom - top) / H]


ax1 = fig.add_axes(box(77, 10, 236))
ax2 = fig.add_axes(box(77, 285, 515))
ax3 = fig.add_axes(box(77, 558, 787))


def xy(*segs):
    pts = np.array([p for s in segs for p in s], dtype=float)
    return pts[:, 0], pts[:, 1]


def style(ax, gmt_y):
    ax.patch.set_visible(False)
    for s in ('top', 'right'):
        ax.spines[s].set_visible(False)
    for s in ('left', 'bottom'):
        ax.spines[s].set_linewidth(1.9)
    ax.set_xlim(74160, 75663)
    ax.xaxis.set_major_locator(FixedLocator(gmt_labels))
    ax.xaxis.set_minor_locator(MultipleLocator(60))
    ax.xaxis.set_major_formatter(FormatStrFormatter('%.1f'))
    ax.tick_params(axis='x', which='both', direction='inout', length=11, width=1.4, pad=2,
                   labelsize=10.5)
    for t in ax.get_xticklabels():
        t.set_fontweight('bold')
    ax.set_xlabel('GMT', fontsize=10.5, fontweight='bold', va='top')
    ax.xaxis.set_label_coords(0.5, gmt_y)


dot = dict(linestyle='none', marker='o', color='black', markersize=5.8, markeredgewidth=0)

# EAVE
x, y = xy(eave_a, eave_b, eave_c, eave_d, eave_d2, eave_e)
ax1.plot(x, y, **dot)
style(ax1, -0.181)
ax1.set_ylim(0, 16)
ax1.set_yticks([8, 16])
ax1.set_yticklabels(['8.000', ''])
ax1.tick_params(axis='y', direction='inout', length=10, width=1.4, pad=1)
for t in ax1.get_yticklabels():
    t.set_rotation(90)
    t.set_va('center')
    t.set_fontsize(11)
    t.set_fontweight('bold')
ax1.set_ylabel('EAVE', fontsize=12.5, fontweight='bold', va='center')
ax1.yaxis.set_label_coords(-0.040, 0.5)
ax1.text(74163, 15.6, 'JAN83FG\nDAY 10\nELECTRON', fontsize=9.5, fontweight='bold',
         va='top', ha='left', linespacing=1.05)


def log_fmt(v, pos):
    k = int(round(np.log10(v)))
    if 5 <= k <= 9:
        return r'$\mathbf{10^{%d}}$' % k
    return ''


def style_log(ax, lo, hi, name, name_y):
    ax.set_yscale('log')
    ax.set_ylim(10 ** lo, 10 ** hi)
    ax.yaxis.set_major_locator(LogLocator(base=10, numticks=20))
    ax.yaxis.set_minor_locator(LogLocator(base=10, subs=np.arange(2, 10), numticks=20))
    ax.yaxis.set_major_formatter(FuncFormatter(log_fmt))
    ax.yaxis.set_minor_formatter(NullFormatter())
    ax.tick_params(axis='y', which='major', direction='inout', length=10, width=1.4, pad=1, labelsize=11)
    ax.tick_params(axis='y', which='minor', direction='inout', length=4, width=1.0)
    for t in ax.get_yticklabels():
        t.set_rotation(90)
        t.set_va('center')
    ax.set_ylabel(name, fontsize=20, va='center')
    ax.yaxis.set_label_coords(-0.054, name_y)


# JETOT
x, y = xy(jetot_a, jetot_b, jetot_c, jetot_d, jetot_d2, jetot_e, jetot_e2)
ax2.plot(x, 10 ** y, **dot)
style(ax2, -0.152)
style_log(ax2, 3.87, 10.0, 'JETOT', 0.51)

# JTOT
x, y = xy(jtot_a, jtot_a2, jtot_b, jtot_c, jtot_c2, jtot_d, jtot_d2)
ax3.plot(x, 10 ** y, **dot)
ax3.plot(jtot_gap_gmt, 10 ** np.array(jtot_gap_log), color='black', lw=0.7, ls=':')
style(ax3, -0.158)
style_log(ax3, 3.98, 10.03, 'JTOT', 0.46)

fig.savefig('out.png', dpi=100)
